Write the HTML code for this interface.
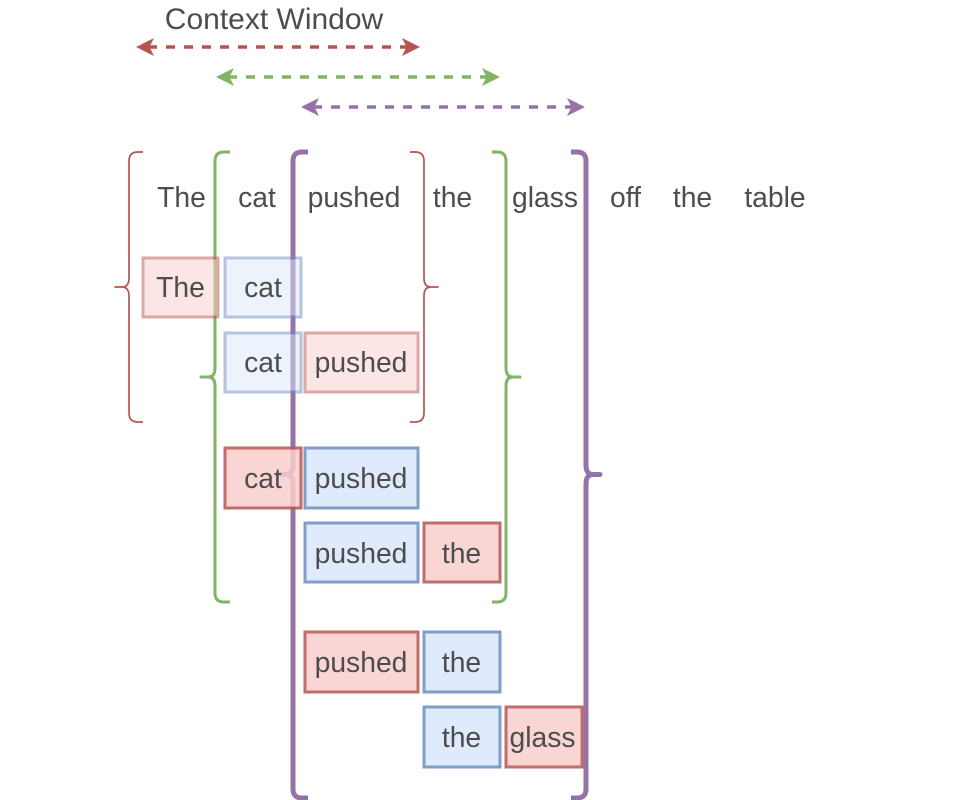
<!DOCTYPE html>
<html>
<head>
<meta charset="utf-8">
<style>
html,body{margin:0;padding:0;background:#fff;width:962px;height:800px;overflow:hidden}
svg{display:block}
text{font-family:"Liberation Sans",Arial,sans-serif;font-size:28.3px;fill:#4d4d4d;text-anchor:middle}
.b{fill:#dae8fc;stroke:#6c8ebf}
.r{fill:#f8cecc;stroke:#b85450}
rect{stroke-width:3}
</style>
</head>
<body>
<svg width="962" height="800" viewBox="0 0 962 800" xmlns="http://www.w3.org/2000/svg">
<text x="274" y="29" style="font-size:30px">Context Window</text>

<g fill="none" stroke-width="3.500" stroke-dasharray="9 9">
<path d="M148 47H408" stroke="#b85450"/>
<path d="M228 77H488" stroke="#82b366"/>
<path d="M313 107H573" stroke="#9673a6"/>
</g>
<path d="M136 47L154 38L149.500 47L154 56Z M420 47L402 38L406.500 47L402 56Z" fill="#b85450"/>
<path d="M216 77L234 68L229.500 77L234 86Z M500 77L482 68L486.500 77L482 86Z" fill="#82b366"/>
<path d="M301 107L319 98L314.500 107L319 116Z M585 107L567 98L571.500 107L567 116Z" fill="#9673a6"/>

<g fill="none" stroke-linejoin="round" stroke-linecap="butt">
<path d="M143 152H138Q129 152 129 161V278Q129 287 122 287H115H122Q129 287 129 296V413Q129 422 138 422H143" stroke="#b85450" stroke-width="1.700"/>
<path d="M410 152H415Q424 152 424 161V278Q424 287 431 287H438H431Q424 287 424 296V413Q424 422 415 422H410" stroke="#b85450" stroke-width="1.700"/>
<path d="M230 152H224Q215 152 215 161V368Q215 377 208 377H201H208Q215 377 215 386V593Q215 602 224 602H230" stroke="#82b366" stroke-width="3"/>
<path d="M492 152H497Q506 152 506 161V368Q506 377 513 377H520H513Q506 377 506 386V593Q506 602 497 602H492" stroke="#82b366" stroke-width="3"/>
<path d="M308 152H302Q293 152 293 161V465Q293 474.500 286 474.500H280H286Q293 474.500 293 484V789Q293 798 302 798H308" stroke="#9673a6" stroke-width="5"/>
<path d="M571 152H577Q586 152 586 161V465Q586 474.500 593 474.500H600H593Q586 474.500 586 484V789Q586 798 577 798H571" stroke="#9673a6" stroke-width="5"/>
</g>

<text x="181.500" y="207">The</text>
<text x="257" y="207">cat</text>
<text x="354" y="207">pushed</text>
<text x="452.500" y="207">the</text>
<text x="545" y="207">glass</text>
<text x="625.500" y="207">off</text>
<text x="692.500" y="207">the</text>
<text x="775" y="207">table</text>

<g opacity="0.5">
<rect class="r" x="143" y="258" width="75" height="59"/>
<rect class="b" x="225" y="258" width="76" height="59"/>
<rect class="b" x="225" y="333" width="76" height="59"/>
<rect class="r" x="305" y="333" width="113" height="59"/>
</g>
<text x="180.500" y="297">The</text>
<text x="263" y="297">cat</text>
<text x="263" y="372">cat</text>
<text x="361" y="372">pushed</text>

<g opacity="0.85">
<rect class="r" x="225" y="448" width="76" height="60"/>
</g>
<rect class="b" x="305" y="448" width="113" height="60" style="opacity:.85"/>
<rect class="b" x="305" y="523" width="113" height="59" style="opacity:.85"/>
<rect class="r" x="424" y="523" width="76" height="59" style="opacity:.85"/>
<rect class="r" x="305" y="632" width="113" height="60" style="opacity:.85"/>
<rect class="b" x="424" y="632" width="76" height="60" style="opacity:.85"/>
<rect class="b" x="424" y="707" width="76" height="60" style="opacity:.85"/>
<rect class="r" x="506" y="707" width="76" height="60" style="opacity:.85"/>

<text x="263" y="488">cat</text>
<text x="361" y="488">pushed</text>
<text x="361" y="563">pushed</text>
<text x="461.500" y="563">the</text>
<text x="361" y="672">pushed</text>
<text x="461.500" y="672">the</text>
<text x="461.500" y="747">the</text>
<text x="542.500" y="747">glass</text>
</svg>
</body>
</html>
